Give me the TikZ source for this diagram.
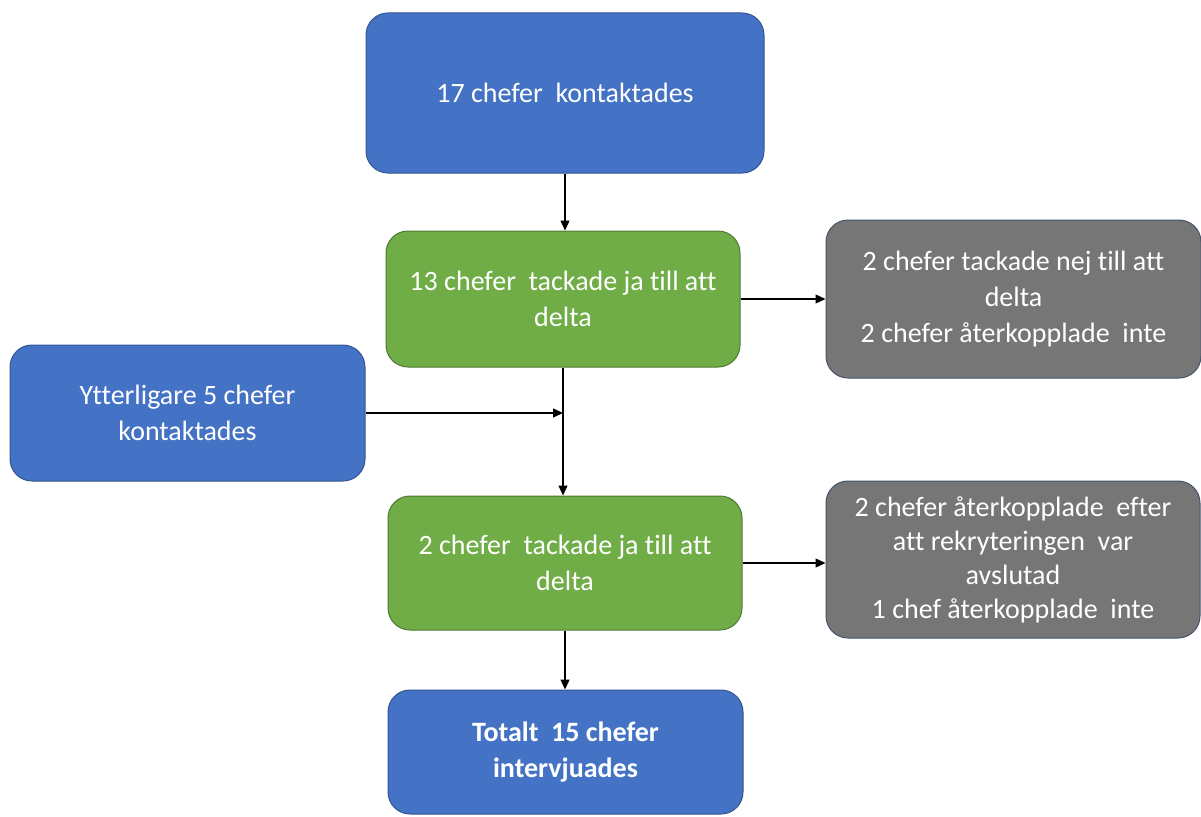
\documentclass[tikz,border=0pt]{standalone}
\usepackage{fontspec}
\setmainfont{Carlito}[Ligatures=NoCommon]
\usetikzlibrary{arrows.meta}
\definecolor{boxblue}{HTML}{4472C4}
\definecolor{boxgreen}{HTML}{70AD47}
\definecolor{boxgray}{HTML}{767676}
\definecolor{boxline}{HTML}{44546A}
\tikzset{box/.style={rounded corners=22pt,line width=1pt,text=white,align=center,inner sep=0pt},
  bluebox/.style={box,fill=boxblue,draw=boxblue!75!black},
  greenbox/.style={box,fill=boxgreen,draw=boxgreen!70!black},
  graybox/.style={box,fill=boxgray,draw=boxline},
  link/.style={line width=1.3pt,-{Triangle[length=10pt,width=9pt]}}}
\begin{document}
\begin{tikzpicture}[x=1pt,y=-1pt,font=\fontsize{28}{36}\selectfont]
\useasboundingbox (0,0) rectangle (1201,816);
\node[bluebox,minimum width=398pt,minimum height=160pt] (kont) at (565,93) {17 chefer\ \ kontaktades};
\node[greenbox,minimum width=354pt,minimum height=136pt] (ja1) at (563,299) {13 chefer\ \ tackade ja till att\\delta};
\node[graybox,minimum width=375pt,minimum height=158pt] (nej1) at (1013.5,299) {2 chefer tackade nej till att\\delta\\2 chefer återkopplade\ \ inte};
\node[bluebox,minimum width=355pt,minimum height=136pt] (extra) at (187.5,413) {Ytterligare 5 chefer\\kontaktades};
\node[greenbox,minimum width=354pt,minimum height=134pt] (ja2) at (565,563) {2 chefer\ \ tackade ja till att\\delta};
\node[graybox,minimum width=374pt,minimum height=157pt,font=\fontsize{28}{34}\selectfont] (nej2) at (1013,559.5) {2 chefer återkopplade\ \ efter\\att rekryteringen\ \ var\\avslutad\\1 chef återkopplade\ \ inte};
\node[bluebox,minimum width=355pt,minimum height=124pt,font=\fontsize{28}{36}\selectfont\bfseries] (tot) at (565.5,752) {Totalt\ \ 15 chefer\\intervjuades};
\coordinate (mid) at (ja1.south |- extra.east);
\draw[link] (kont.south) -- (kont.south |- ja1.north);
\draw[link] (ja1.east) -- (nej1.west);
\draw[link] (ja1.south) -- (ja1.south |- ja2.north);
\draw[link] (extra.east) -- (mid);
\draw[link] (ja2.east) -- (ja2.east -| nej2.west);
\draw[link] (ja2.south) -- (ja2.south |- tot.north);
\end{tikzpicture}
\end{document}
